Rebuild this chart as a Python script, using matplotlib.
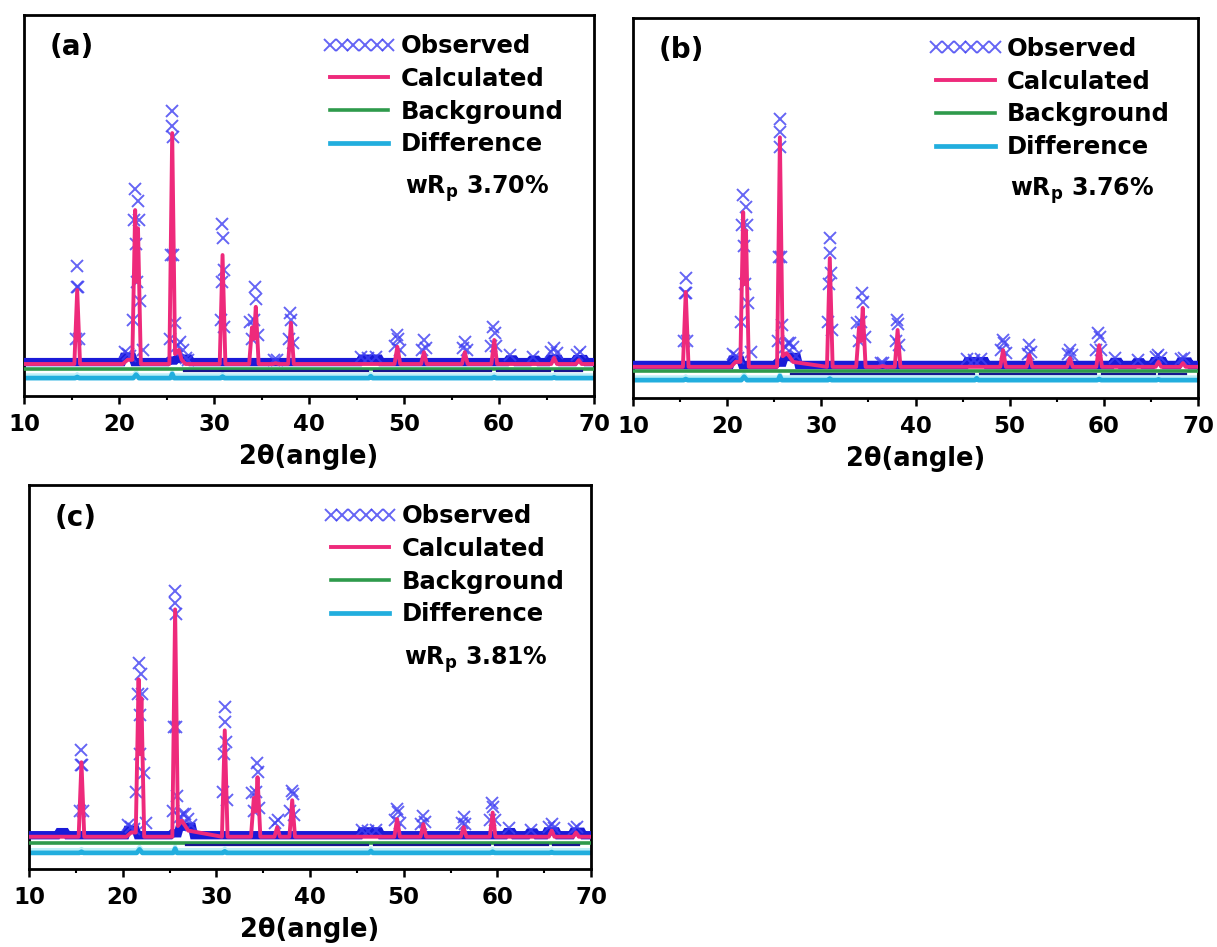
import matplotlib
matplotlib.use('Agg')
import matplotlib.pyplot as plt
import numpy as np

plt.rcParams['font.family'] = ['DejaVu Sans']
plt.rcParams['font.weight'] = 'bold'
plt.rcParams['mathtext.fontset'] = 'dejavusans'

# ---------------- data (intensity in arbitrary units) ----------------
panel_labels = ['(a)', '(b)', '(c)']
wrp_values = ['3.70%', '3.76%', '3.81%']
legend_labels = ['Observed', 'Calculated', 'Background', 'Difference']

# calculated profile (shared 2theta sampling)
calc_x = [10.0, 15.3, 15.6, 15.9, 20.4, 20.9, 21.4, 21.7, 21.85, 22.0, 22.3,
          25.3, 25.6, 25.9, 26.3, 26.6, 27.0, 30.6, 30.9, 31.2,
          33.7, 34.0, 34.2, 34.4, 34.7, 36.2, 36.5, 36.8, 37.8, 38.1, 38.4,
          49.0, 49.3, 49.6, 51.8, 52.1, 52.4, 56.1, 56.4, 56.7,
          59.2, 59.5, 59.8, 65.5, 65.8, 66.1, 68.1, 68.4, 68.7, 70.0]
calc_a = [84, 84, 278, 84, 84, 95, 95, 488, 300, 440, 84,
          84, 690, 110, 121, 95, 84, 84, 370, 84,
          84, 180, 150, 234, 84, 84, 86, 84, 84, 192, 84,
          84, 129, 84, 84, 115, 84, 84, 115, 84,
          84, 147, 84, 84, 100, 84, 84, 94, 84, 84]
calc_b = [82, 82, 279, 82, 82, 95, 95, 489, 300, 440, 82,
          82, 686, 110, 118, 110, 95, 82, 368, 82,
          82, 185, 150, 237, 82, 82, 84, 82, 82, 179, 82,
          82, 126, 82, 82, 113, 82, 82, 105, 82,
          82, 139, 82, 82, 95, 82, 82, 92, 82, 82]
calc_c = [84, 84, 278, 84, 84, 95, 95, 494, 300, 445, 84,
          84, 676, 112, 126, 115, 100, 84, 361, 84,
          84, 185, 150, 239, 84, 84, 109, 84, 84, 179, 84,
          84, 130, 84, 84, 117, 84, 84, 109, 84,
          84, 147, 84, 84, 100, 84, 84, 95, 84, 84]

# observed points on the reflections (shared 2theta positions)
obs_x = [15.45, 15.55, 15.6, 15.65, 15.75,
         20.6, 20.9, 21.2, 21.45, 21.6, 21.7, 21.8, 21.9, 22.0, 22.1, 22.25, 22.5,
         25.35, 25.5, 25.58, 25.62, 25.66, 25.72, 25.85, 26.1, 26.45, 26.7, 27.0, 27.3,
         30.7, 30.8, 30.88, 30.92, 31.0, 31.1,
         33.8, 34.0, 34.2, 34.35, 34.42, 34.6,
         36.3, 36.6,
         37.9, 38.05, 38.15, 38.3,
         45.5, 46.2, 47.0,
         49.1, 49.25, 49.4, 49.6,
         51.9, 52.1, 52.3,
         56.2, 56.4, 56.6,
         59.2, 59.4, 59.55, 59.7,
         61.2, 63.6,
         65.5, 65.8, 66.1,
         68.2, 68.5]
obs_a = [150, 286, 341, 286, 150,
         115, 110, 105, 200, 462, 543, 400, 300, 512, 462, 250, 120,
         150, 370, 748, 709, 680, 370, 191, 130, 142, 120, 100, 95,
         200, 300, 451, 415, 330, 180,
         194, 150, 200, 286, 255, 160,
         95, 95,
         150, 218, 200, 140,
         102, 100, 102,
         130, 160, 150, 120,
         120, 147, 125,
         125, 142, 120,
         130, 181, 165, 130,
         108, 102,
         115, 126, 112,
         108, 115]
obs_b = [150, 276, 316, 276, 150,
         115, 110, 105, 200, 455, 534, 400, 300, 502, 455, 250, 120,
         150, 370, 734, 700, 660, 370, 191, 135, 145, 145, 135, 110,
         200, 300, 421, 381, 330, 180,
         197, 150, 200, 276, 252, 160,
         92, 92,
         150, 205, 195, 140,
         102, 100, 102,
         125, 153, 145, 118,
         115, 139, 120,
         115, 126, 112,
         125, 171, 160, 125,
         105, 100,
         108, 113, 106,
         102, 105]
obs_c = [150, 270, 309, 270, 150,
         115, 110, 105, 200, 455, 536, 400, 300, 507, 455, 250, 120,
         150, 370, 723, 694, 665, 370, 191, 135, 143, 143, 130, 115,
         200, 300, 421, 382, 330, 180,
         198, 150, 200, 276, 252, 160,
         120, 127,
         150, 203, 195, 140,
         102, 100, 102,
         128, 156, 148, 120,
         118, 139, 122,
         120, 135, 118,
         128, 173, 162, 128,
         108, 102,
         110, 117, 108,
         104, 109]

# observed continuum (dense band of observed points)
band_x = [10, 13.0, 13.2, 13.9, 14.1, 20.3, 20.5, 21.4, 21.6, 25.1, 25.3, 25.9, 26.1,
          27.4, 27.6, 45.3, 45.5, 47.4, 47.6, 60.8, 61.0, 61.6, 61.8,
          63.2, 63.4, 64.0, 64.2, 65.1, 65.3, 66.3, 66.5, 67.9, 68.1, 69.0, 69.2, 70]
band_a = [89, 89, 89, 89, 89, 89, 103, 103, 89, 89, 93, 93, 98,
          98, 89, 89, 98, 98, 89, 89, 96, 96, 89,
          89, 95, 95, 89, 89, 98, 98, 89, 89, 97, 97, 89, 89]
band_b = [87, 87, 87, 87, 87, 87, 101, 101, 87, 87, 93, 93, 108,
          108, 87, 87, 97, 97, 87, 87, 95, 95, 87,
          87, 94, 94, 87, 87, 97, 97, 87, 87, 96, 96, 87, 87]
band_c = [88, 88, 96, 96, 88, 88, 102, 102, 88, 88, 93, 93, 110,
          110, 88, 88, 98, 98, 88, 88, 96, 96, 88,
          88, 95, 95, 88, 88, 98, 98, 88, 88, 97, 97, 88, 88]
low_x = [26.8, 46.2, np.nan, 46.8, 59.2, np.nan, 59.8, 65.4, np.nan, 65.9, 68.7]
low_a = [66, 66, np.nan, 66, 66, np.nan, 66, 66, np.nan, 66, 66]
low_b = [64, 64, np.nan, 64, 64, np.nan, 64, 64, np.nan, 64, 64]
low_c = [62, 62, np.nan, 62, 62, np.nan, 62, 62, np.nan, 62, 62]

# background
bg_x = [10, 70]
bg_a = [71, 71]
bg_b = [71, 71]
bg_c = [68, 68]

# difference curve
diff_x = [10, 15.4, 15.6, 15.8, 21.5, 21.8, 22.1, 25.4, 25.6, 25.8, 30.7, 30.9, 31.1,
          46.3, 46.5, 46.7, 59.3, 59.5, 59.7, 65.6, 65.8, 66.0, 70]
diff_a = [47, 47, 50, 47, 47, 56, 47, 47, 58, 47, 47, 51, 47,
          47, 52, 47, 47, 50, 47, 47, 49, 47, 47]
diff_b = [47, 47, 50, 47, 47, 56, 47, 47, 58, 47, 47, 51, 47,
          47, 52, 47, 47, 50, 47, 47, 49, 47, 47]
diff_c = [42, 42, 45, 42, 42, 51, 42, 42, 53, 42, 42, 46, 42,
          42, 47, 42, 42, 45, 42, 42, 44, 42, 42]

x_ticks = [10, 20, 30, 40, 50, 60, 70]

panels = [
    dict(calc=calc_a, obs=obs_a, band=band_a, low=low_a, bg=bg_a, diff=diff_a),
    dict(calc=calc_b, obs=obs_b, band=band_b, low=low_b, bg=bg_b, diff=diff_b),
    dict(calc=calc_c, obs=obs_c, band=band_c, low=low_c, bg=bg_c, diff=diff_c),
]

# ---------------- styling / layout ----------------
W, H = 1217, 947
fig = plt.figure(figsize=(W / 100, H / 100), dpi=100)
boxes = [(24, 15, 594, 396), (633, 18, 1198, 398), (29, 485, 591, 869)]

C_OBS = '#3F3FF2'
C_BAND = '#1A1AD8'
C_CALC = '#EE2A7B'
C_BG = '#2E9A4B'
C_DIFF = '#22AEDE'
C_DIFF_LIGHT = '#BDEFF8'

for i, (p, (l, t, r, b)) in enumerate(zip(panels, boxes)):
    ax = fig.add_axes([l / W, 1 - b / H, (r - l) / W, (b - t) / H])
    ax.plot(diff_x, np.array(p['diff']) + 9, color=C_DIFF_LIGHT, lw=2.0, zorder=1)
    hd, = ax.plot(diff_x, p['diff'], color=C_DIFF, lw=3.4, zorder=2, label=legend_labels[3])
    hb, = ax.plot(bg_x, p['bg'], color=C_BG, lw=2.6, zorder=3, label=legend_labels[2])
    ax.plot(low_x, p['low'], color='#16168C', lw=1.6, zorder=3)
    ax.plot(band_x, p['band'], color=C_BAND, lw=6.0, zorder=4, solid_joinstyle='miter')
    ho, = ax.plot(obs_x, p['obs'], ls='none', marker='x', ms=8, mew=1.4,
                  color=C_OBS, alpha=0.8, zorder=5, label=legend_labels[0])
    hc, = ax.plot(calc_x, p['calc'], color=C_CALC, lw=2.8, zorder=6, label=legend_labels[1])

    ax.set_xlim(10, 70)
    ax.set_ylim(0, 1000)
    ax.set_yticks([])
    ax.set_xticks(x_ticks)
    ax.set_xticks([15, 25, 35, 45, 55, 65], minor=True)
    ax.tick_params(axis='x', which='major', direction='out', length=6, width=1.8,
                   labelsize=16.5, pad=6)
    ax.tick_params(axis='x', which='minor', direction='out', length=3, width=1.5)
    for lab in ax.get_xticklabels():
        lab.set_fontweight('bold')
    for s in ax.spines.values():
        s.set_linewidth(2.0)
    ax.set_xlabel('2θ(angle)', fontsize=18.5, fontweight='bold', labelpad=6)

    ax.text(0.045, 0.915, panel_labels[i], transform=ax.transAxes, fontsize=20,
            fontweight='bold', va='center', ha='left')
    leg = ax.legend(handles=[ho, hc, hb, hd], loc='upper left',
                    bbox_to_anchor=(0.524, 0.950), frameon=False, fontsize=17.5,
                    handlelength=3.0, handletextpad=0.2, labelspacing=0.36,
                    borderpad=0, borderaxespad=0, numpoints=6)
    for tx in leg.get_texts():
        tx.set_fontweight('bold')
    ax.text(0.668, 0.545, r'wR$_{\mathbf{p}}$ ' + wrp_values[i], transform=ax.transAxes,
            fontsize=17, fontweight='bold', va='center', ha='left')

fig.savefig('out.png', dpi=100)
